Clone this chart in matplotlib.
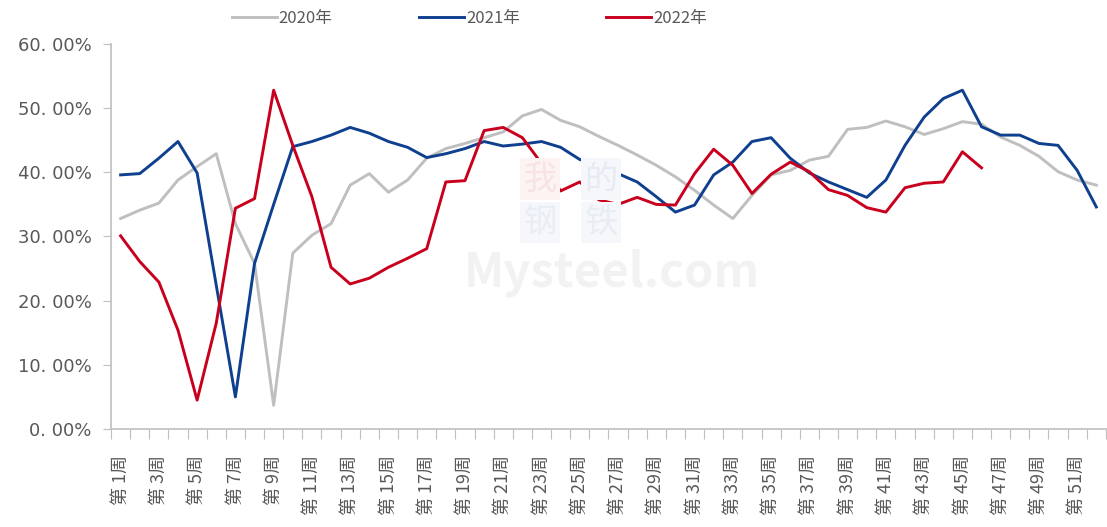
import matplotlib

matplotlib.use("Agg")
import matplotlib.pyplot as plt
import numpy as np

plt.rcParams["font.family"] = ["Noto Sans CJK SC", "DejaVu Sans"]

weeks = [f"第 {i}周" for i in range(1, 53)]

y2020 = [32.8, 34.1, 35.2, 38.8, 40.9, 42.9, 32.0, 25.8, 3.7, 27.4,
         30.2, 32.0, 38.0, 39.8, 36.9, 38.8, 42.2, 43.7, 44.5, 45.4,
         46.3, 48.8, 49.8, 48.1, 47.1, 45.6, 44.2, 42.7, 41.1, 39.3,
         37.2, 34.9, 32.8, 36.4, 39.6, 40.3, 41.9, 42.5, 46.7, 47.0,
         48.0, 47.1, 45.9, 46.8, 47.9, 47.5, 45.5, 44.2, 42.5, 40.1,
         38.8, 38.0]
y2021 = [39.6, 39.8, 42.2, 44.8, 39.9, 22.4, 5.0, 25.8, 35.0, 44.0,
         44.8, 45.8, 47.0, 46.1, 44.8, 43.9, 42.3, 42.9, 43.7, 44.8,
         44.1, 44.4, 44.8, 43.9, 42.0, 41.1, 39.8, 38.5, 36.2, 33.8,
         34.9, 39.6, 41.6, 44.8, 45.4, 42.2, 39.9, 38.5, 37.3, 36.1,
         38.8, 44.2, 48.6, 51.5, 52.8, 47.1, 45.8, 45.8, 44.5, 44.2,
         40.3, 34.6]
y2022 = [30.1, 26.1, 22.9, 15.4, 4.5, 16.5, 34.4, 35.9, 52.8, 44.2,
         36.2, 25.2, 22.6, 23.5, 25.2, 26.6, 28.1, 38.5, 38.7, 46.5,
         47.0, 45.4, 41.4, 37.1, 38.5, 35.7, 35.0, 36.1, 35.0, 34.9,
         39.8, 43.6, 41.1, 36.7, 39.7, 41.6, 40.1, 37.3, 36.4, 34.5,
         33.8, 37.6, 38.3, 38.5, 43.2, 40.7]

SERIES = [
    ("2020年", y2020, "#BFBFBF"),
    ("2021年", y2021, "#0F3F8F"),
    ("2022年", y2022, "#C8001E"),
]
TEXT = "#595959"
AXIS = "#BFBFBF"

fig = plt.figure(figsize=(11.07, 5.27), dpi=100)
ax = fig.add_axes([0.1003, 0.186, 0.8987, 0.7305])

# faint watermark
for ch, (fx, fy), bg, fg in [
    ("我", (0.488, 0.66), "#FDF3F3", "#F8E3E3"),
    ("的", (0.543, 0.66), "#F6F7FB", "#E6EAF2"),
    ("钢", (0.488, 0.578), "#F6F7FB", "#E8ECF3"),
    ("铁", (0.543, 0.578), "#F6F7FB", "#E8ECF3"),
]:
    fig.text(fx, fy, ch, fontsize=24, color=fg, ha="center", va="center", zorder=0,
             bbox=dict(boxstyle="square,pad=0.1", fc=bg, ec="none"))
fig.text(0.553, 0.483, "Mysteel.com", fontsize=34, color="#F2F2F2",
         ha="center", va="center", fontweight="bold", zorder=0)
ax.patch.set_alpha(0)

for name, vals, color in SERIES:
    x = np.arange(len(vals))
    ax.plot(x, vals, color=color, linewidth=2.1, label=name, solid_joinstyle="round")

ax.set_xlim(-0.5, len(weeks) - 0.5)
ax.set_ylim(0, 60)
yt = np.arange(0, 61, 10)
ax.set_yticks(yt)
ax.set_yticklabels([f"{v:d}. 00%" for v in yt], fontsize=13, color=TEXT,
                   family="DejaVu Sans")

# tick marks at category boundaries, labels on every other category
ax.set_xticks(np.arange(len(weeks) + 1) - 0.5)
ax.set_xticklabels([])
ax.set_xticks(np.arange(0, len(weeks), 2), minor=True)
ax.set_xticklabels(weeks[::2], minor=True, rotation=90, fontsize=13, color=TEXT,
                   ha="center", va="top")
ax.tick_params(axis="x", which="major", length=7, color=AXIS, direction="out")
ax.tick_params(axis="x", which="minor", length=0, pad=19)
ax.tick_params(axis="y", length=6, color=AXIS, pad=8)

for side in ("top", "right"):
    ax.spines[side].set_visible(False)
for side in ("left", "bottom"):
    ax.spines[side].set_color(AXIS)
    ax.spines[side].set_linewidth(1.2)

fig.legend(loc="upper center", bbox_to_anchor=(0.424, 1.01), ncol=3, frameon=False,
           fontsize=12, labelcolor=TEXT, handlelength=2.7, handletextpad=0.1,
           columnspacing=5.2)

fig.savefig("out.png", dpi=100)
